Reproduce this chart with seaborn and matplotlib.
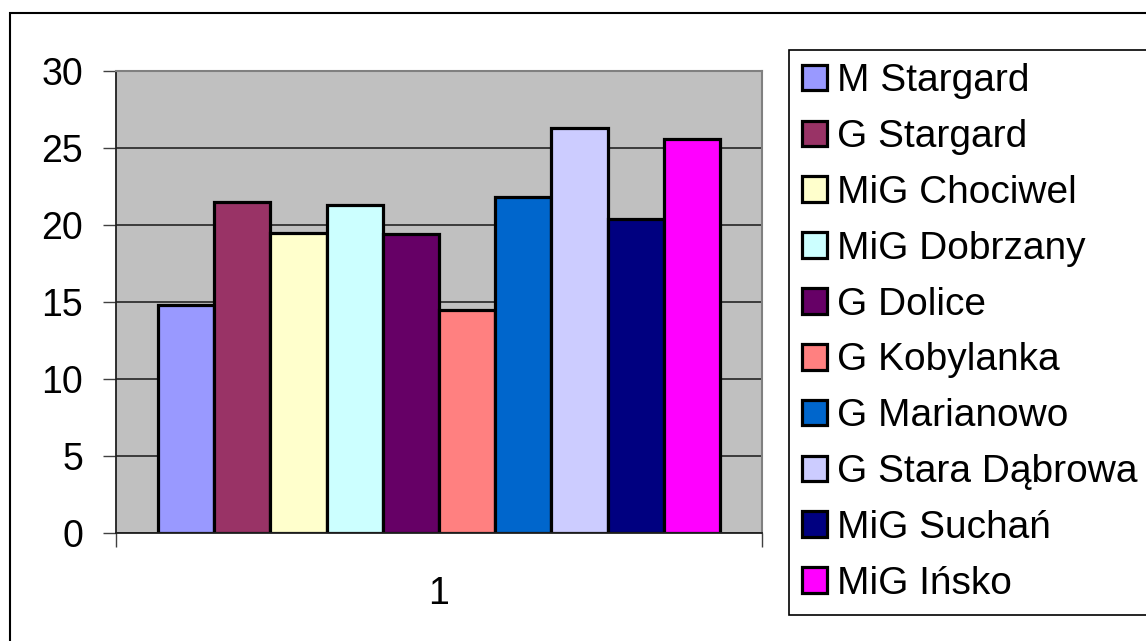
import matplotlib
matplotlib.use("Agg")

import matplotlib.pyplot as plt
import matplotlib.patches as mpatches
import pandas as pd
import seaborn as sns

# dane
gminy = [
    "M Stargard",
    "G Stargard",
    "MiG Chociwel",
    "MiG Dobrzany",
    "G Dolice",
    "G Kobylanka",
    "G Marianowo",
    "G Stara Dąbrowa",
    "MiG Suchań",
    "MiG Ińsko",
]
wartosci = [14.8, 21.5, 19.5, 21.3, 19.4, 14.5, 21.8, 26.3, 20.4, 25.6]
kategoria = ["1"] * len(gminy)
kolory = [
    "#9999FF", "#993366", "#FFFFCC", "#CCFFFF", "#660066",
    "#FF8080", "#0066CC", "#CCCCFF", "#000080", "#FF00FF",
]
y_ticks = [0, 5, 10, 15, 20, 25, 30]

df = pd.DataFrame({"kategoria": kategoria, "gmina": gminy, "wartosc": wartosci})

sns.set_style("white")
plt.rcParams["font.family"] = ["Liberation Sans", "DejaVu Sans"]
plt.rcParams["text.color"] = "black"
plt.rcParams["xtick.color"] = "black"
plt.rcParams["ytick.color"] = "black"

fig = plt.figure(figsize=(11.46, 6.41), dpi=100)
ax = fig.add_axes([116 / 1146, 1 - 533 / 641, (762 - 116) / 1146, (533 - 71) / 641])

sns.barplot(
    data=df,
    x="kategoria",
    y="wartosc",
    hue="gmina",
    hue_order=gminy,
    palette=dict(zip(gminy, kolory)),
    saturation=1,
    width=0.87,
    edgecolor="black",
    linewidth=2.3,
    errorbar=None,
    ax=ax,
)

ax.set_facecolor("#C0C0C0")
ax.set_xlim(-0.5, 0.5)
ax.set_ylim(0, 30)
ax.set_yticks(y_ticks)
ax.set_axisbelow(True)
ax.yaxis.grid(True, color="#303030", linewidth=1.3)
ax.xaxis.grid(False)
ax.set_xlabel("")
ax.set_ylabel("")

for side in ["top", "right"]:
    ax.spines[side].set_color("#808080")
    ax.spines[side].set_linewidth(1.5)
for side in ["left", "bottom"]:
    ax.spines[side].set_color("#202020")
    ax.spines[side].set_linewidth(1.3)

ax.tick_params(axis="y", which="major", direction="out", length=9.5, width=1,
               color="#404040", labelcolor="black", pad=14, labelsize=27, left=True)
ax.set_xticks([-0.5, 0.5], minor=True)
ax.tick_params(axis="x", which="minor", direction="out", length=10, width=1,
               color="#404040", bottom=True)
ax.tick_params(axis="x", which="major", length=0, pad=31, labelsize=27,
               labelcolor="black")

ax.legend(
    loc="upper left",
    bbox_to_anchor=(789 / 1146, 1 - 50 / 641),
    bbox_transform=fig.transFigure,
    fontsize=28,
    frameon=True,
    fancybox=False,
    edgecolor="black",
    framealpha=1,
    borderpad=0.34,
    handlelength=0.64,
    handleheight=0.64,
    handletextpad=0.26,
    labelspacing=0.51,
    borderaxespad=0,
    title=None,
)
leg = ax.get_legend()
leg.get_frame().set_linewidth(1.2)
for h in leg.legend_handles:
    h.set_edgecolor("black")
    h.set_linewidth(2.3)
for t in leg.get_texts():
    t.set_color("black")

# ramka obszaru wykresu
fig.add_artist(mpatches.Rectangle(
    (10 / 1146, -0.1), 1.2, 1.1 - 13 / 641,
    transform=fig.transFigure, fill=False, edgecolor="black", linewidth=1.5,
))

fig.savefig("out.png", dpi=100)
plt.close(fig)
